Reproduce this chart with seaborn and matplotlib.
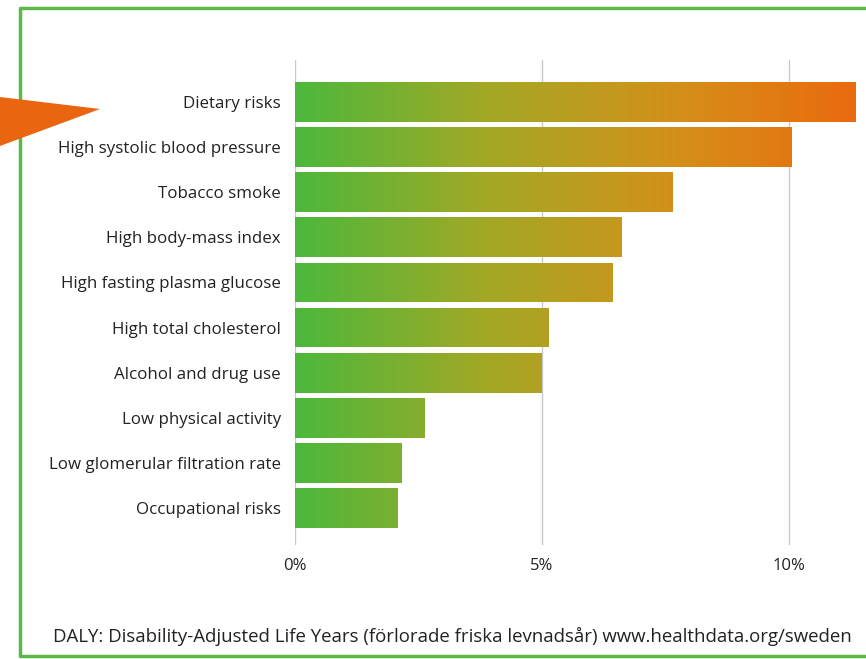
import matplotlib
matplotlib.use("Agg")
import matplotlib.pyplot as plt
import numpy as np
import pandas as pd
import seaborn as sns
from matplotlib.colors import LinearSegmentedColormap
from matplotlib.patches import Polygon
from matplotlib.lines import Line2D

# Share of DALYs by risk factor (Sweden)
risks = [
    "Dietary risks",
    "High systolic blood pressure",
    "Tobacco smoke",
    "High body-mass index",
    "High fasting plasma glucose",
    "High total cholesterol",
    "Alcohol and drug use",
    "Low physical activity",
    "Low glomerular filtration rate",
    "Occupational risks",
]
share = [11.35, 10.05, 7.65, 6.6, 6.42, 5.13, 5.0, 2.62, 2.15, 2.08]
tick_values = [0, 5, 10]
tick_labels = ["0%", "5%", "10%"]
footer = "DALY: Disability-Adjusted Life Years (förlorade friska levnadsår) www.healthdata.org/sweden"

df = pd.DataFrame({"risk": risks, "share": share})

sns.set_theme(style="white")
plt.rcParams["font.family"] = ["Open Sans", "DejaVu Sans"]

fig = plt.figure(figsize=(8.66, 6.59), dpi=100)
ax = fig.add_axes([295 / 866, 1 - 545 / 659, 571 / 866, 485 / 659])

sns.barplot(data=df, x="share", y="risk", orient="h", width=0.88,
            color="#8db33a", ax=ax, zorder=3)

# green -> orange gradient running along the x axis, clipped to each bar
cmap = LinearSegmentedColormap.from_list(
    "daly", ["#4cb83c", "#a3a826", "#d4901a", "#ec680e"])
grad = np.linspace(0, 1, 256).reshape(1, -1)
xmax = 11.56
for bar in ax.patches:
    y0, h = bar.get_y(), bar.get_height()
    im = ax.imshow(grad, cmap=cmap, extent=[0, xmax, y0 + h, y0],
                   aspect="auto", zorder=3, interpolation="bicubic")
    im.set_clip_path(bar)
    bar.set_facecolor("none")
    bar.set_edgecolor("none")

ax.set_xlim(0, xmax)
ax.set_ylim(9.82, -0.93)
ax.set_xticks(tick_values)
ax.set_xticklabels(tick_labels, fontsize=12, color="#222222")
ax.tick_params(axis="x", length=0, pad=9)
ax.tick_params(axis="y", length=0, pad=10, labelsize=12.2, labelcolor="#222222")
ax.set_xlabel("")
ax.set_ylabel("")
for s in ax.spines.values():
    s.set_visible(False)
for v in tick_values:
    ax.axvline(v, color="#c8c8c8", lw=1, zorder=1)

# footer
fig.text(452 / 866, 1 - 636 / 659, footer, ha="center", va="center",
         fontsize=13.4, color="#222222")

# green frame (open on the right)
frame = "#5db84a"
fig.add_artist(Line2D([866 / 866, 20 / 866, 20 / 866, 866 / 866],
                      [1 - 8 / 659, 1 - 8 / 659, 1 - 656 / 659, 1 - 656 / 659],
                      color=frame, lw=2.5, transform=fig.transFigure))

# orange pointer on the left
fig.add_artist(Polygon([[0, 1 - 97 / 659], [100 / 866, 1 - 109 / 659], [0, 1 - 146 / 659]],
                       closed=True, facecolor="#ea6510", edgecolor="none",
                       transform=fig.transFigure, zorder=5))

fig.savefig("out.png", dpi=100)
